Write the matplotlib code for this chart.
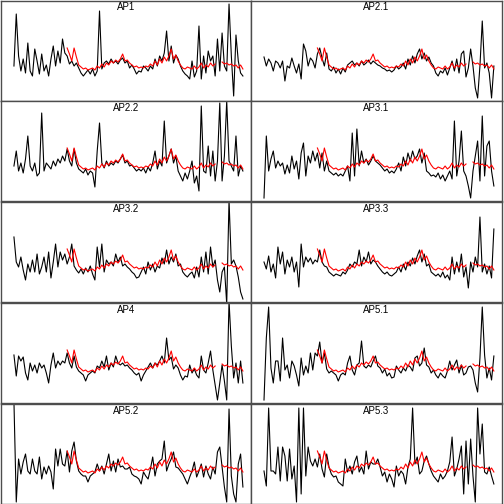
import numpy as np
import matplotlib.pyplot as plt

# panel names, in reading order (row by row)
names = ["AP1", "AP2.1", "AP2.2", "AP3.1", "AP3.2",
         "AP3.3", "AP4", "AP5.1", "AP5.2", "AP5.3"]

ap1 = [35, 87, 45, 30, 42, 28, 58, 30, 25, 52,
       40, 27, 47, 30, 36, 25, 42, 55, 35, 50,
       38, 62, 48, 45, 37, 40, 35, 38, 33, 28,
       25, 28, 31, 27, 32, 25, 30, 90, 32, 38,
       40, 37, 42, 38, 40, 37, 41, 43, 38, 40,
       33, 36, 32, 27, 30, 29, 35, 33, 30, 35,
       32, 42, 35, 45, 40, 48, 70, 40, 55, 38,
       46, 42, 35, 30, 27, 25, 22, 40, 24, 30,
       75, 22, 45, 28, 50, 40, 45, 25, 62, 30,
       68, 35, 30, 97, 45, 5, 66, 40, 28, 25]
ap2_1 = [44, 35, 42, 38, 30, 40, 38, 33, 40, 20,
         35, 33, 43, 35, 28, 37, 22, 57, 50, 35,
         43, 40, 33, 47, 53, 43, 35, 48, 32, 30,
         34, 28, 32, 27, 33, 29, 36, 38, 40, 36,
         38, 35, 40, 36, 38, 41, 37, 40, 38, 36,
         35, 33, 32, 30, 31, 29, 31, 35, 32, 34,
         38, 32, 42, 36, 45, 38, 47, 52, 42, 48,
         40, 44, 38, 35, 28, 25, 30, 28, 33, 26,
         33, 40, 30, 42, 28, 47, 50, 24, 33, 52,
         35, 13, 3, 35, 80, 33, 38, 28, 3, 35]
ap2_2 = [35, 50, 30, 38, 28, 42, 65, 35, 30, 38,
         25, 28, 88, 30, 38, 35, 32, 40, 35, 42,
         38, 45, 40, 52, 40, 35, 52, 38, 32, 30,
         28, 32, 26, 30, 28, 14, 50, 78, 38, 33,
         40, 35, 38, 36, 40, 38, 42, 46, 38, 40,
         35, 36, 33, 30, 32, 30, 33, 28, 34, 30,
         38, 50, 32, 40, 35, 80, 38, 45, 52, 38,
         45, 30, 25, 20, 28, 22, 30, 40, 18, 25,
         10, 95, 30, 28, 55, 25, 50, 20, 40, 98,
         20, 45, 100, 40, 35, 30, 65, 25, 35, 30]
ap3_1 = [3, 65, 30, 42, 50, 33, 40, 35, 38, 27,
         36, 28, 45, 32, 40, 22, 48, 58, 25, 45,
         38, 50, 40, 48, 33, 48, 30, 40, 30, 28,
         26, 28, 25, 27, 25, 30, 35, 20, 68, 25,
         72, 35, 50, 38, 42, 36, 40, 45, 40, 38,
         36, 33, 30, 32, 28, 30, 28, 32, 38, 30,
         44, 35, 48, 40, 50, 42, 45, 52, 38, 48,
         30, 28, 25, 26, 24, 28, 22, 26, 20, 25,
         30, 22, 80, 25, 40, 70, 30, 25, 15, 3,
         30, 45, 60, 20, 85, 25, 55, 60, 30, 15]
ap3_2 = [65, 40, 35, 45, 32, 22, 38, 30, 42, 30,
         48, 28, 35, 45, 30, 50, 24, 40, 58, 35,
         50, 42, 48, 38, 45, 58, 36, 32, 29, 33,
         28, 34, 30, 36, 28, 22, 55, 35, 58, 30,
         42, 38, 40, 36, 48, 40, 45, 36, 38, 35,
         33, 30, 28, 24, 25, 30, 35, 28, 40, 32,
         38, 30, 36, 34, 44, 38, 52, 38, 45, 40,
         48, 36, 38, 30, 27, 25, 28, 30, 24, 35,
         25, 45, 30, 50, 28, 55, 35, 42, 22, 10,
         30, 35, -2, 102, 38, 42, 36, 25, 10, 3]
ap3_3 = [40, 33, 46, 30, 38, 24, 55, 38, 50, 28,
         42, 35, 45, 30, 40, 15, 58, 35, 45, 40,
         44, 38, 42, 40, 52, 40, 36, 35, 30, 28,
         26, 28, 27, 26, 30, 28, 32, 38, 35, 40,
         38, 52, 36, 45, 40, 50, 38, 42, 40, 36,
         33, 30, 28, 30, 27, 26, 28, 30, 35, 30,
         38, 32, 40, 36, 44, 38, 46, 52, 40, 48,
         36, 38, 30, 28, 26, 28, 25, 30, 24, 27,
         22, 45, 28, 40, 30, 48, 25, 35, 14, 40,
         30, 45, 35, 85, 30, 38, 28, 36, 24, 73]
ap4 = [48, 27, 47, 42, 46, 30, 23, 40, 32, 38,
       30, 40, 35, 38, 30, 20, 38, 50, 35, 42,
       38, 42, 40, 50, 40, 35, 47, 36, 32, 30,
       28, 22, 28, 30, 32, 30, 37, 35, 42, 36,
       47, 33, 40, 36, 47, 40, 38, 40, 37, 38,
       35, 33, 30, 28, 30, 22, 28, 32, 36, 40,
       35, 40, 38, 42, 47, 40, 65, 43, 46, 34,
       38, 35, 28, 23, 27, 26, 38, 30, 34, 28,
       25, 47, 33, 30, 40, 52, 33, 18, 3, 20,
       38, 22, 3, 102, 57, 25, 40, 20, 42, 20]
ap5_1 = [3, 65, 96, 35, 20, 42, 42, 22, 65, 33,
         38, 25, 42, 37, 28, 17, 45, 28, 37, 30,
         50, 33, 50, 47, 61, 40, 50, 34, 30, 32,
         30, 28, 22, 28, 30, 28, 40, 47, 33, 28,
         38, 40, 62, 37, 35, 38, 36, 42, 47, 37,
         35, 30, 34, 27, 30, 25, 26, 37, 33, 30,
         35, 32, 38, 36, 32, 45, 47, 37, 40, 55,
         38, 36, 30, 33, 28, 25, 30, 27, 25, 32,
         42, 33, 38, 43, 30, 38, 28, 30, 36, 37,
         33, 20, 11, 45, 96, 48, 25, 35, 23, 47]
ap5_2 = [102, 2, 45, 30, 42, 50, 33, 30, 45, 33,
         30, 47, 25, 37, 30, 38, 32, 15, 55, 38,
         55, 40, 38, 53, 32, 53, 62, 43, 33, 30,
         28, 28, 22, 28, 30, 32, 40, 33, 38, 30,
         40, 50, 33, 43, 32, 45, 37, 38, 35, 35,
         37, 30, 28, 27, 25, 20, 32, 28, 25, 35,
         47, 28, 40, 43, 45, 63, 33, 40, 45, 52,
         37, 36, 33, 30, 25, 20, 27, 33, 42, 27,
         33, 40, 27, 38, 30, 25, 37, 30, 52, 57,
         37, 17, 2, 95, 28, 10, 2, 40, 50, 17]
ap5_3 = [33, 18, 96, 33, 33, 30, 57, 23, 57, 48,
         23, 55, 25, 38, 2, 96, 10, 96, 28, 57,
         43, 38, 45, 37, 50, 35, 27, 50, 37, 30,
         27, 28, 22, 20, 18, 45, 32, 38, 30, 42,
         48, 32, 37, 30, 53, 35, 42, 40, 40, 45,
         37, 28, 32, 22, 30, 25, 17, 38, 28, 33,
         30, 20, 37, 45, 96, 40, 47, 30, 33, 43,
         48, 40, 33, 28, 25, 22, 30, 25, 28, 33,
         42, 67, 28, 35, 45, 58, 10, 63, 20, 65,
         28, 2, 96, 50, 80, 32, 30, 37, 28, 20]

series = [ap1, ap2_1, ap2_2, ap3_1, ap3_2, ap3_3, ap4, ap5_1, ap5_2, ap5_3]

# fitted curve (red), same for every panel, starts at step 23, gap at 88-89
fit_start = 23
fitted = [53, 47, 40, 53, 44, 36, 34, 32, 33, 31,
          32, 33, 31, 35, 33, 37, 34, 38, 36, 40,
          38, 41, 39, 42, 47, 40, 41, 38, 36, 34,
          35, 33, 34, 33, 35, 34, 37, 35, 40, 36,
          42, 38, 44, 40, 45, 52, 42, 46, 40, 36,
          33, 32, 34, 33, 32, 35, 32, 34, 38, 33,
          36, 34, 38, 35, 37, np.nan, np.nan,
          39, 37, 38, 36, 37, 35, 36, 33, 36, 32]

fig = plt.figure(figsize=(5.04, 5.04), dpi=100)
W = H = 504.0
col_left = [1, 251]
col_w = [250, 251]
row_top = [1, 101, 202, 303, 404]
row_h = 100

fx = np.arange(fit_start, fit_start + len(fitted))

for k, (name, ys) in enumerate(zip(names, series)):
    r, c = divmod(k, 2)
    ax = fig.add_axes([col_left[c] / W, 1 - (row_top[r] + row_h) / H,
                       col_w[c] / W, row_h / H])
    x = np.arange(len(ys))
    ax.plot(x, ys, color="black", lw=0.8)
    ax.plot(fx, fitted, color="red", lw=0.8)
    ax.set_xlim(-5.6, 102.5)
    ax.set_ylim(0, 100)
    ax.set_xticks([])
    ax.set_yticks([])
    for s in ax.spines.values():
        s.set_color("#4d4d4d")
        s.set_linewidth(1.0)
    ax.text(0.5, 0.985, name, transform=ax.transAxes, ha="center", va="top",
            fontsize=7, family="Liberation Sans")

plt.savefig("out.png", dpi=100)
